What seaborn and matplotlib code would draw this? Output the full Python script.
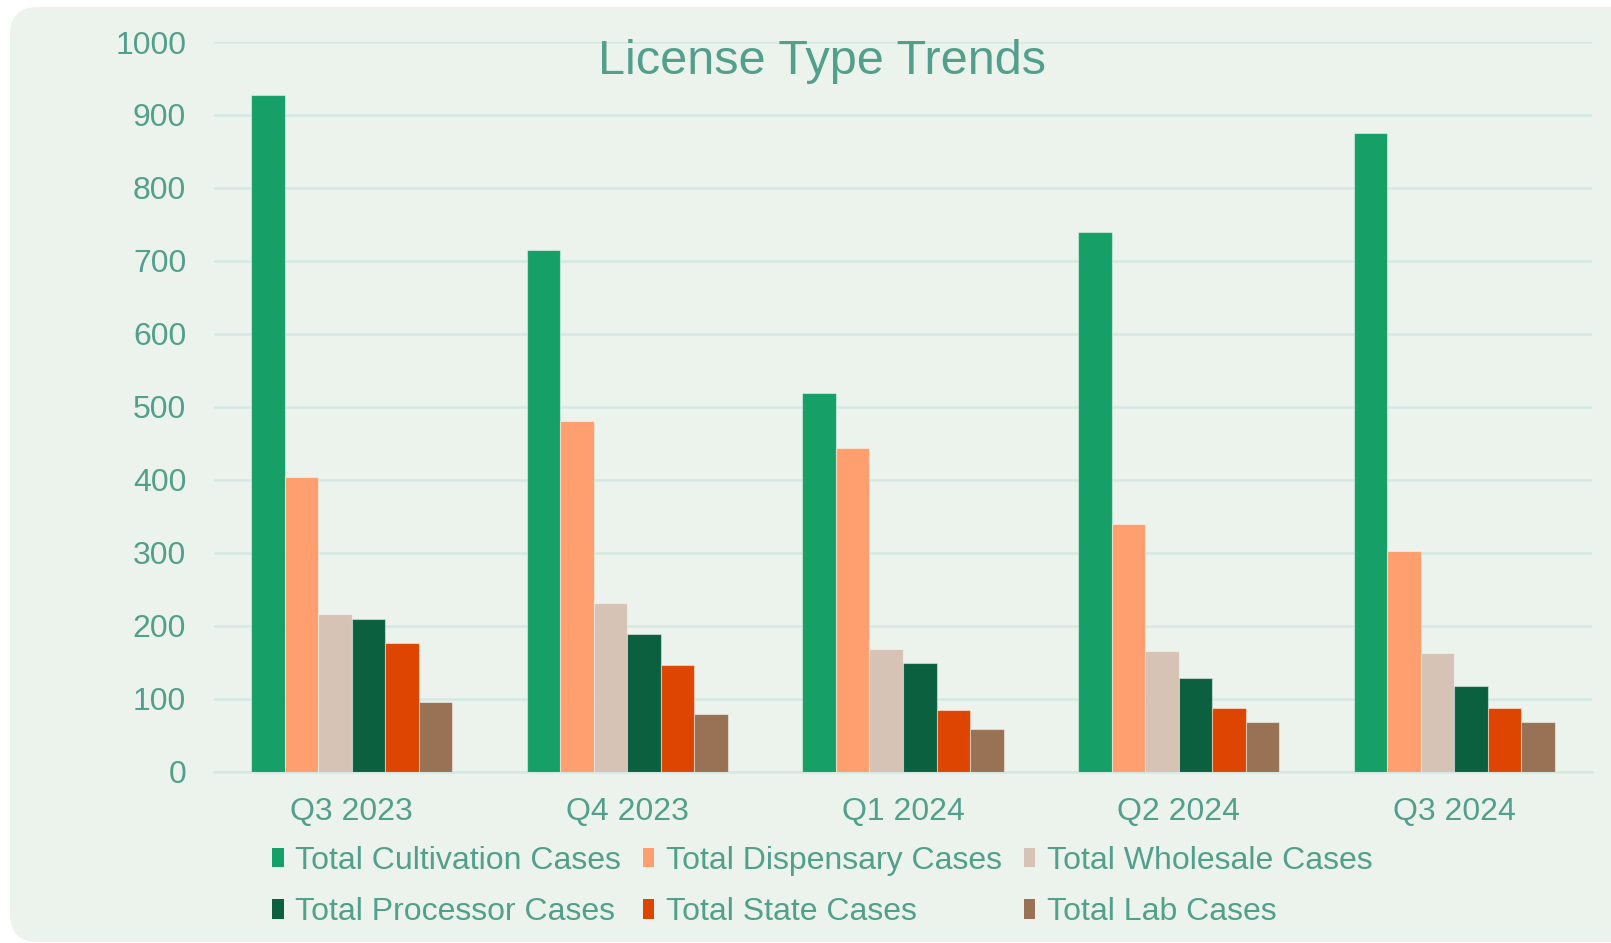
import pandas as pd
import matplotlib.pyplot as plt
import seaborn as sns
from matplotlib.patches import FancyBboxPatch, Patch

quarters = ['Q3 2023', 'Q4 2023', 'Q1 2024', 'Q2 2024', 'Q3 2024']
series = ['Total Cultivation Cases', 'Total Dispensary Cases', 'Total Wholesale Cases',
          'Total Processor Cases', 'Total State Cases', 'Total Lab Cases']

cultivation = [928, 715, 519, 739, 875]
dispensary = [404, 480, 443, 339, 303]
wholesale = [216, 231, 168, 166, 162]
processor = [209, 189, 149, 128, 117]
state = [176, 146, 85, 87, 87]
lab = [96, 79, 59, 68, 68]

colors = ['#16A068', '#FF9E6F', '#D7C3B5', '#0B6040', '#DD4500', '#997255']
text_color = '#52A08C'
grid_color = '#D5E8E3'

values = [cultivation, dispensary, wholesale, processor, state, lab]
rows = []
for s, vals in zip(series, values):
    for q, v in zip(quarters, vals):
        rows.append({'quarter': q, 'series': s, 'value': v})
df = pd.DataFrame(rows)

sns.set_style("white")
plt.rcParams['font.family'] = ['Liberation Sans', 'DejaVu Sans']

fig = plt.figure(figsize=(16.11, 9.43), dpi=100, facecolor='white')
bg = FancyBboxPatch((10, 1), 1640, 935, boxstyle="round,pad=0,rounding_size=28",
                    transform=None, facecolor='#ECF3EC', edgecolor='none', zorder=-10)
fig.patches.append(bg)

ax = fig.add_axes([214 / 1611, 1 - 771.7 / 943, (1592 - 214) / 1611, (771.7 - 42) / 943])
ax.patch.set_alpha(0)

sns.barplot(data=df, x='quarter', y='value', hue='series', palette=colors, saturation=1,
            width=0.73, edgecolor=(1, 1, 1, 0.45), linewidth=0.8, legend=False, ax=ax, zorder=3)

ax.set_ylim(0, 1000)
ax.set_xlim(-0.5, 4.5)
ax.set_yticks(range(0, 1001, 100))
ax.yaxis.grid(True, color=grid_color, linewidth=1.8, zorder=0)
ax.set_axisbelow(True)
ax.set_xlabel('')
ax.set_ylabel('')
for side in ['left', 'right', 'top']:
    ax.spines[side].set_visible(False)
ax.spines['bottom'].set_color(grid_color)
ax.spines['bottom'].set_linewidth(1.8)

ax.tick_params(axis='y', length=0, pad=20, labelsize=23, labelcolor=text_color)
ax.tick_params(axis='x', which='major', length=0, pad=18.5, labelsize=23, labelcolor=text_color)
ax.set_xticks([i - 0.5 for i in range(6)], minor=True)
ax.tick_params(axis='x', which='minor', length=8, width=1.5, color=grid_color, direction='out')

fig.text(822 / 1611, 1 - 61 / 943, 'License Type Trends', ha='center', va='center',
         fontsize=35, color=text_color)

handles = [Patch(facecolor=c, edgecolor='none') for c in colors]
order = [0, 3, 1, 4, 2, 5]
fig.legend([handles[i] for i in order], [series[i] for i in order], ncol=3,
           loc='upper left', bbox_to_anchor=(272 / 1611, 1 - 846 / 943), frameon=False,
           fontsize=23, labelcolor=text_color, handlelength=0.36, handleheight=0.55,
           handletextpad=0.35, columnspacing=0.7, labelspacing=0.67,
           borderpad=0, borderaxespad=0)

fig.savefig('out.png', dpi=100)
